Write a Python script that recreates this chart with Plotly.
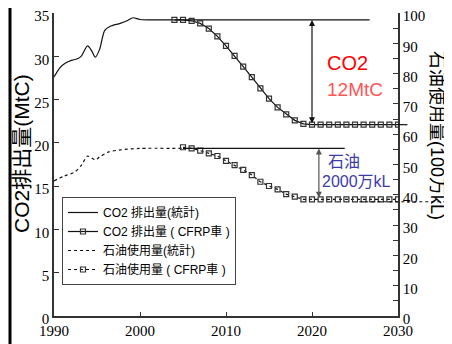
import plotly.graph_objects as go

# ---- data ----
co2_stat_years = [1990, 1990.7, 1991.3, 1992.1, 1992.8, 1993.2, 1993.9, 1994.4, 1994.8,
                  1995.3, 1995.9, 1996.5, 1997.7, 1998.5, 1999.2, 2000, 2002, 2004]
co2_stat_vals = [27.6, 28.7, 29.2, 29.55, 29.75, 30.05, 31.2, 30.6, 29.9,
                 30.8, 33.0, 33.45, 33.8, 34.1, 34.45, 34.25, 34.2, 34.2]

co2_cfrp_years = list(range(2004, 2031))
co2_cfrp_vals = [34.2, 34.2, 34.1, 33.8, 33.2, 32.3, 31.2, 30.05, 28.8, 27.6, 26.3, 25.1,
                 24.1, 23.3, 22.6, 22.2, 22.1, 22.1, 22.1, 22.1, 22.1, 22.1, 22.1, 22.1,
                 22.1, 22.1, 22.1]

oil_stat_years = [1990, 1991.2, 1992.4, 1993.2, 1993.9, 1994.8, 1995.3, 1996.3, 1997.7, 1999.9, 2005]
oil_stat_vals = [44.6, 46.2, 47.5, 49.8, 52.8, 51.5, 52.5, 54.1, 54.8, 55.3, 55.3]

oil_cfrp_years = list(range(2005, 2031))
oil_cfrp_vals = [55.7, 55.3, 54.6, 53.7, 52.8, 51.2, 49.8, 48.2, 46.5, 44.3, 42.9, 41.8,
                 40.2, 39.4, 38.5, 38.5, 38.5, 38.5, 38.5, 38.5, 38.5, 38.5, 38.5, 38.5,
                 38.5, 38.5]

x_ticks = [1990, 2000, 2010, 2020, 2030]
left_ticks = [0, 5, 10, 15, 20, 25, 30, 35]
right_ticks = [0, 10, 20, 30, 40, 50, 60, 70, 80, 90, 100]

co2_ref = 34.2       # statistics plateau (left axis)
co2_target = 22.1
oil_ref = 55.3       # statistics plateau (right axis)
oil_target = 38.5

X_RANGE = [1990, 2030]
Y1_RANGE = [0, 35]
Y2_RANGE = [0, 100]

SANS = "Liberation Sans, Arial, Noto Sans CJK JP, sans-serif"
SERIF = "Times New Roman, Liberation Serif, serif"
CJK = "Liberation Sans, Noto Sans CJK JP, sans-serif"

# the page body adds an 8px offset; the figure is sized to fill the rest of the window
BODY = 8
FIG_W, FIG_H = 452 - BODY, 344 - BODY


def px(x):  # data x -> paper
    return (x - X_RANGE[0]) / (X_RANGE[1] - X_RANGE[0])


def py2(y):  # right-axis data -> paper
    return (y - Y2_RANGE[0]) / (Y2_RANGE[1] - Y2_RANGE[0])


def py1(y):
    return (y - Y1_RANGE[0]) / (Y1_RANGE[1] - Y1_RANGE[0])


fig = go.Figure()

fig.add_trace(go.Scatter(x=co2_stat_years, y=co2_stat_vals, mode="lines",
                         line=dict(color="#111", width=1.2, shape="spline", smoothing=0.8),
                         name="CO2 排出量(統計)", yaxis="y"))
fig.add_trace(go.Scatter(x=co2_cfrp_years, y=co2_cfrp_vals, mode="lines+markers",
                         line=dict(color="#111", width=1.2),
                         marker=dict(symbol="square-open", size=5, color="#333",
                                     line=dict(width=1.2)),
                         name="CO2 排出量 ( CFRP車 )", yaxis="y"))
fig.add_trace(go.Scatter(x=oil_stat_years, y=oil_stat_vals, mode="lines",
                         line=dict(color="#111", width=1.2, dash="dot", shape="spline", smoothing=0.8),
                         name="石油使用量(統計)", yaxis="y2"))
fig.add_trace(go.Scatter(x=oil_cfrp_years, y=oil_cfrp_vals, mode="lines+markers",
                         line=dict(color="#111", width=1.2, dash="dot"),
                         marker=dict(symbol="square-open", size=5, color="#333",
                                     line=dict(width=1.2)),
                         name="石油使用量 ( CFRP車 )", yaxis="y2"))

shapes = [
    dict(type="line", xref="x", yref="y", x0=2004, x1=2026.7, y0=co2_ref, y1=co2_ref,
         line=dict(color="#111", width=1.2)),
    dict(type="line", xref="x", yref="y2", x0=2005, x1=2023.8, y0=oil_ref, y1=oil_ref,
         line=dict(color="#111", width=1.2)),
    dict(type="line", xref="paper", yref="paper", x0=px(2030), x1=px(2031.1),
         y0=py1(co2_target), y1=py1(co2_target), line=dict(color="#111", width=1.2)),
    dict(type="line", xref="paper", yref="paper", x0=px(2025.5), x1=px(2036.3),
         y0=py2(oil_target - 0.8), y1=py2(oil_target - 0.8),
         line=dict(color="#111", width=1.2, dash="dot")),
    dict(type="line", xref="paper", yref="paper", x0=-44 / 344, x1=-44 / 344, y0=-0.1, y1=1.05,
         line=dict(color="#000", width=3)),
]

annotations = [
    dict(x=2020, y=co2_ref, ax=2020, ay=co2_target, xref="x", yref="y", axref="x", ayref="y",
         showarrow=True, arrowhead=2, arrowside="end+start", arrowsize=1, arrowwidth=1.2,
         arrowcolor="#111", text=""),
    dict(x=2020.8, y=oil_ref, ax=2020.8, ay=oil_target, xref="x", yref="y2", axref="x", ayref="y2",
         showarrow=True, arrowhead=2, arrowside="end+start", arrowsize=1, arrowwidth=1.2,
         arrowcolor="#555", text=""),
    dict(x=2024.1, y=29.2, xref="x", yref="y", text="CO2", showarrow=False,
         font=dict(family=SANS, size=20, color="#ff0000")),
    dict(x=2025.0, y=26.2, xref="x", yref="y", text="12MtC", showarrow=False,
         font=dict(family=SANS, size=19, color="#ff5555")),
    dict(x=2023.7, y=17.8, xref="x", yref="y", text="石油", showarrow=False,
         font=dict(family=CJK, size=16, color="#3c3ca8")),
    dict(x=2025.2, y=15.5, xref="x", yref="y", text="2000万kL", showarrow=False,
         font=dict(family=CJK, size=16, color="#3c3ca8")),
    dict(x=(21 - 54) / 344, y=(316 - 154) / 303, xref="paper", yref="paper",
         xanchor="center", yanchor="middle",
         text="CO2排出量(MtC)", textangle=-90, showarrow=False,
         font=dict(family=CJK, size=21, color="#000")),
    dict(x=(437 - 54) / 344, y=(316 - 135) / 303, xref="paper", yref="paper",
         xanchor="center", yanchor="middle",
         text="石油使用量(100万kL)", textangle=90, showarrow=False,
         font=dict(family=CJK, size=18, color="#000")),
]

fig.update_layout(
    template="none",
    width=FIG_W, height=FIG_H,
    margin=dict(l=54 - BODY, r=FIG_W - (398 - BODY), t=13 - BODY, b=FIG_H - (316 - BODY),
                pad=0, autoexpand=False),
    paper_bgcolor="white", plot_bgcolor="white",
    showlegend=True,
    legend=dict(x=(62 - 54) / 344, y=(316 - 197) / 303, xanchor="left", yanchor="top",
                bgcolor="white", bordercolor="#444", borderwidth=1,
                font=dict(family=CJK, size=12, color="#000"),
                tracegroupgap=0, itemwidth=30),
    xaxis=dict(range=X_RANGE, tickvals=x_ticks, ticks="inside", ticklen=4, tickcolor="#333",
               automargin=False, ticklabeloverflow="allow",
               showgrid=False, zeroline=False, showline=True, linecolor="#333", linewidth=1.5,
               tickfont=dict(family=SERIF, size=15, color="#000")),
    yaxis=dict(range=Y1_RANGE, tickvals=left_ticks, ticks="inside", ticklen=5, tickcolor="#333",
               automargin=False, ticklabeloverflow="allow", ticklabelshift=3,
               showgrid=False, zeroline=False, showline=True, linecolor="#333", linewidth=1.5,
               tickfont=dict(family=SERIF, size=15, color="#000")),
    yaxis2=dict(range=Y2_RANGE, tickvals=right_ticks, overlaying="y", side="right",
                ticks="inside", ticklen=5, tickcolor="#333", automargin=False,
                ticklabeloverflow="allow", ticklabelshift=3,
                minor=dict(dtick=5, ticks="inside", ticklen=5, tickcolor="#333"),
                showgrid=False, zeroline=False, showline=True, linecolor="#333", linewidth=1.5,
                tickfont=dict(family=SERIF, size=15, color="#000")),
    shapes=shapes,
    annotations=annotations,
)

fig.write_html("out.html")
